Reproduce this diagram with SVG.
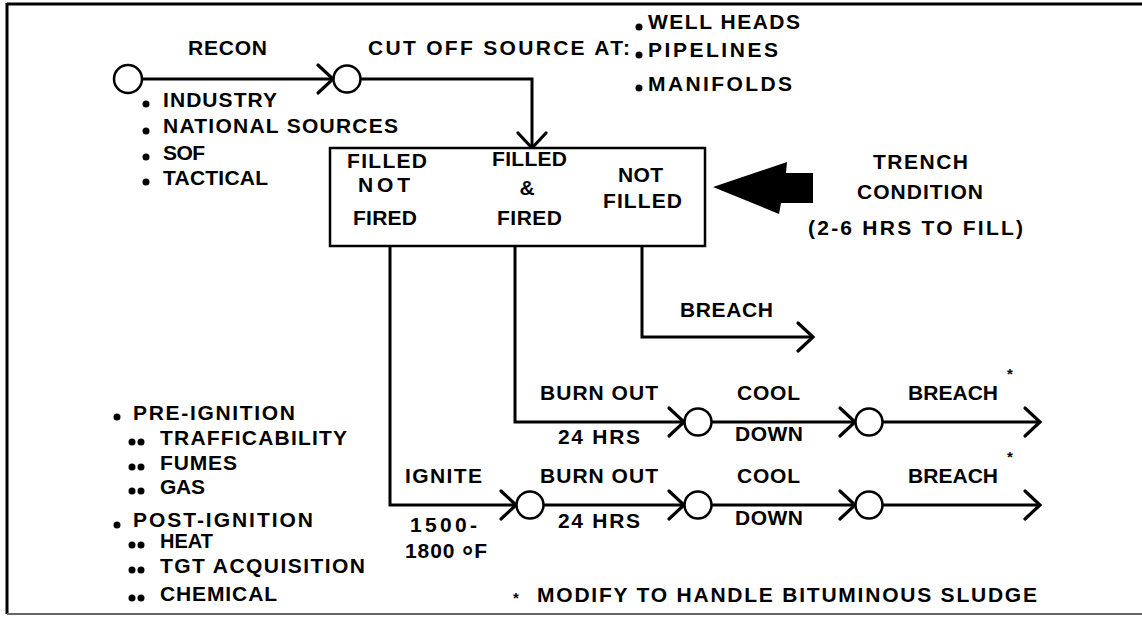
<svg xmlns="http://www.w3.org/2000/svg" width="1142" height="617" viewBox="0 0 1142 617">
<style>
.t{font-family:"Liberation Sans",Arial,sans-serif;font-weight:bold;font-size:21px;fill:#000}
.ast{font-family:"Liberation Sans",Arial,sans-serif;font-weight:bold;font-size:15px;fill:#000}
.ln{fill:none;stroke:#000;stroke-width:3;stroke-linejoin:miter}
.nd{fill:#fff;stroke:#000;stroke-width:2.5}
.box{fill:#fff;stroke:#000;stroke-width:2.5}
.dot{fill:#000}
</style>
<defs>
<marker id="v" markerUnits="userSpaceOnUse" markerWidth="40" markerHeight="40" refX="0" refY="0" viewBox="-20 -20 40 40" orient="auto" overflow="visible">
<path d="M-15,-14 L0,0 L-15,14" fill="none" stroke="#000" stroke-width="3.2" stroke-linecap="round"/>
</marker>
</defs>
<rect width="1142" height="617" fill="#fff"/>
<g id="frame">
<line x1="7" y1="4" x2="1142" y2="4" stroke="#000" stroke-width="3"/>
<line x1="7" y1="3" x2="7" y2="614" stroke="#000" stroke-width="3"/>
<line x1="7" y1="614" x2="1142" y2="614" stroke="#666" stroke-width="2"/>
</g>
<g id="connectors">
<line class="ln" x1="142" y1="79" x2="333" y2="79" marker-end="url(#v)"/>
<path class="ln" d="M361,79 H532 V148" marker-end="url(#v)"/>
<path class="ln" d="M390,246 V505 H516" marker-end="url(#v)"/>
<path class="ln" d="M515,246 V422 H684" marker-end="url(#v)"/>
<path class="ln" d="M642,246 V337 H813" marker-end="url(#v)"/>
<line class="ln" x1="712" y1="422" x2="855" y2="422" marker-end="url(#v)"/>
<line class="ln" x1="883" y1="422" x2="1040" y2="422" marker-end="url(#v)"/>
<line class="ln" x1="544" y1="505" x2="684" y2="505" marker-end="url(#v)"/>
<line class="ln" x1="712" y1="505" x2="855" y2="505" marker-end="url(#v)"/>
<line class="ln" x1="883" y1="505" x2="1040" y2="505" marker-end="url(#v)"/>
</g>
<g id="start"><circle class="nd" cx="128" cy="79" r="14"/></g>
<g id="recon-node"><circle class="nd" cx="347" cy="79" r="13.5"/></g>
<g id="burnout-a"><circle class="nd" cx="698" cy="422" r="13.5"/></g>
<g id="cool-a"><circle class="nd" cx="869" cy="422" r="13.5"/></g>
<g id="ignite-node"><circle class="nd" cx="530" cy="505" r="13.5"/></g>
<g id="burnout-b"><circle class="nd" cx="698" cy="505" r="13.5"/></g>
<g id="cool-b"><circle class="nd" cx="869" cy="505" r="13.5"/></g>
<g id="labels-top">
<text class="t" x="188" y="55" textLength="79" lengthAdjust="spacing">RECON</text>
<text class="t" x="368" y="55" textLength="262" lengthAdjust="spacing">CUT OFF SOURCE AT:</text>
</g>
<g id="sources-list">
<circle class="dot" cx="639" cy="27" r="3.5"/>
<circle class="dot" cx="639" cy="55" r="3.5"/>
<circle class="dot" cx="639" cy="88" r="3.5"/>
<text class="t" x="648" y="29" textLength="152" lengthAdjust="spacing">WELL HEADS</text>
<text class="t" x="648" y="57" textLength="130" lengthAdjust="spacing">PIPELINES</text>
<text class="t" x="648" y="91" textLength="144" lengthAdjust="spacing">MANIFOLDS</text>
</g>
<g id="recon-list">
<circle class="dot" cx="146" cy="104" r="3.5"/>
<circle class="dot" cx="146" cy="131" r="3.5"/>
<circle class="dot" cx="146" cy="157" r="3.5"/>
<circle class="dot" cx="146" cy="182" r="3.5"/>
<text class="t" x="163" y="107" textLength="114" lengthAdjust="spacing">INDUSTRY</text>
<text class="t" x="163" y="133" textLength="235" lengthAdjust="spacing">NATIONAL SOURCES</text>
<text class="t" x="163" y="160" textLength="42" lengthAdjust="spacing">SOF</text>
<text class="t" x="163" y="185" textLength="105" lengthAdjust="spacing">TACTICAL</text>
</g>
<g id="condition-box">
<rect class="box" x="330" y="148" width="375" height="98"/>
<text class="t" x="347" y="168" textLength="80" lengthAdjust="spacing">FILLED</text>
<text class="t" x="358" y="192" textLength="52" lengthAdjust="spacing">NOT</text>
<text class="t" x="353" y="225" textLength="64" lengthAdjust="spacing">FIRED</text>
<text class="t" x="492" y="166" textLength="75" lengthAdjust="spacing">FILLED</text>
<text class="t" x="527" y="195" text-anchor="middle">&amp;</text>
<text class="t" x="497" y="225" textLength="65" lengthAdjust="spacing">FIRED</text>
<text class="t" x="618" y="182" textLength="45" lengthAdjust="spacing">NOT</text>
<text class="t" x="603" y="208" textLength="79" lengthAdjust="spacing">FILLED</text>
</g>
<g id="trench">
<polygon points="713,187 787,162 786,173 813,173 813,203 781,203 779,214" fill="#000"/>
<text class="t" x="873" y="169" textLength="95" lengthAdjust="spacing">TRENCH</text>
<text class="t" x="857" y="199" textLength="126" lengthAdjust="spacing">CONDITION</text>
<text class="t" x="808" y="235" textLength="215" lengthAdjust="spacing">(2-6 HRS TO FILL)</text>
</g>
<g id="breach-direct">
<text class="t" x="680" y="317" textLength="93" lengthAdjust="spacing">BREACH</text>
</g>
<g id="row-fired">
<text class="t" x="540" y="400" textLength="118" lengthAdjust="spacing">BURN OUT</text>
<text class="t" x="558" y="444" textLength="82" lengthAdjust="spacing">24 HRS</text>
<text class="t" x="737" y="400" textLength="63" lengthAdjust="spacing">COOL</text>
<text class="t" x="735" y="441" textLength="68" lengthAdjust="spacing">DOWN</text>
<text class="t" x="908" y="400" textLength="90" lengthAdjust="spacing">BREACH</text>
<text class="ast" x="1010" y="379" text-anchor="middle">*</text>
</g>
<g id="row-notfired">
<text class="t" x="405" y="483" textLength="77" lengthAdjust="spacing">IGNITE</text>
<text class="t" x="410" y="532" textLength="67" lengthAdjust="spacing">1500-</text>
<text class="t" x="405" y="558" textLength="82" lengthAdjust="spacing">1800 <tspan dy="8" font-size="28">°</tspan><tspan dy="-8">F</tspan></text>
<text class="t" x="540" y="483" textLength="118" lengthAdjust="spacing">BURN OUT</text>
<text class="t" x="558" y="528" textLength="82" lengthAdjust="spacing">24 HRS</text>
<text class="t" x="737" y="483" textLength="63" lengthAdjust="spacing">COOL</text>
<text class="t" x="735" y="525" textLength="68" lengthAdjust="spacing">DOWN</text>
<text class="t" x="908" y="483" textLength="90" lengthAdjust="spacing">BREACH</text>
<text class="ast" x="1010" y="462" text-anchor="middle">*</text>
</g>
<g id="ignition-list">
<circle class="dot" cx="117" cy="417" r="3.5"/>
<circle class="dot" cx="132" cy="442" r="3.5"/><circle class="dot" cx="141" cy="442" r="3.5"/>
<circle class="dot" cx="132" cy="467" r="3.5"/><circle class="dot" cx="141" cy="467" r="3.5"/>
<circle class="dot" cx="132" cy="491" r="3.5"/><circle class="dot" cx="141" cy="491" r="3.5"/>
<circle class="dot" cx="117" cy="525" r="3.5"/>
<circle class="dot" cx="132" cy="545" r="3.5"/><circle class="dot" cx="141" cy="545" r="3.5"/>
<circle class="dot" cx="132" cy="570" r="3.5"/><circle class="dot" cx="141" cy="570" r="3.5"/>
<circle class="dot" cx="132" cy="598" r="3.5"/><circle class="dot" cx="141" cy="598" r="3.5"/>
<text class="t" x="133" y="420" textLength="162" lengthAdjust="spacing">PRE-IGNITION</text>
<text class="t" x="160" y="445" textLength="187" lengthAdjust="spacing">TRAFFICABILITY</text>
<text class="t" x="160" y="470" textLength="77" lengthAdjust="spacing">FUMES</text>
<text class="t" x="160" y="494" textLength="45" lengthAdjust="spacing">GAS</text>
<text class="t" x="133" y="527" textLength="180" lengthAdjust="spacing">POST-IGNITION</text>
<text class="t" x="160" y="548" font-size="20" style="font-size:20px">HEAT</text>
<text class="t" x="160" y="573" textLength="205" lengthAdjust="spacing">TGT ACQUISITION</text>
<text class="t" x="160" y="601" textLength="117" lengthAdjust="spacing">CHEMICAL</text>
</g>
<g id="footnote">
<text class="t" x="513" y="603"><tspan style="font-size:15px">*</tspan><tspan x="537" y="602" textLength="500" lengthAdjust="spacing">MODIFY TO HANDLE BITUMINOUS SLUDGE</tspan></text>
</g>
</svg>
